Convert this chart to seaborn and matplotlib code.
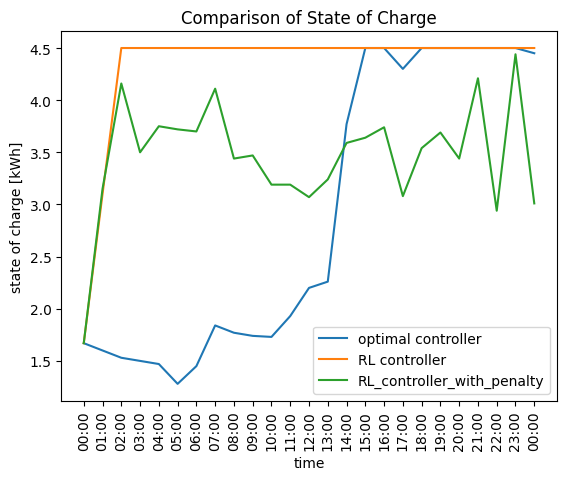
import numpy as np
import pandas as pd
import matplotlib
matplotlib.use("Agg")
import matplotlib.pyplot as plt
import seaborn as sns

# hourly time labels (last one wraps to the next midnight)
time_labels = [f"{h:02d}:00" for h in range(24)] + ["00:00"]

optimal = [1.67, 1.60, 1.53, 1.50, 1.47, 1.28, 1.45, 1.84, 1.77, 1.74, 1.73,
           1.93, 2.20, 2.26, 3.77, 4.50, 4.50, 4.30, 4.50, 4.50, 4.50, 4.50,
           4.50, 4.50, 4.45]
rl = [1.67, 3.10, 4.50, 4.50, 4.50, 4.50, 4.50, 4.50, 4.50, 4.50, 4.50,
      4.50, 4.50, 4.50, 4.50, 4.50, 4.50, 4.50, 4.50, 4.50, 4.50, 4.50,
      4.50, 4.50, 4.50]
rl_penalty = [1.67, 3.15, 4.16, 3.50, 3.75, 3.72, 3.70, 4.11, 3.44, 3.47, 3.19,
              3.19, 3.07, 3.24, 3.59, 3.64, 3.74, 3.08, 3.54, 3.69, 3.44, 4.21,
              2.94, 4.44, 3.01]

series = {
    "optimal controller": optimal,
    "RL controller": rl,
    "RL_controller_with_penalty": rl_penalty,
}

rows = []
for name, vals in series.items():
    for i, v in enumerate(vals):
        rows.append({"step": i, "soc": v, "controller": name})
df = pd.DataFrame(rows)

fig, ax = plt.subplots(figsize=(5.67, 4.81), dpi=100)
fig.subplots_adjust(left=0.108, right=0.982, top=0.933, bottom=0.165)

sns.lineplot(data=df, x="step", y="soc", hue="controller",
             palette=["#1f77b4", "#ff7f0e", "#2ca02c"], ax=ax)

ax.set_xticks(range(len(time_labels)))
ax.set_xticklabels(time_labels, rotation=90)
ax.set_xlabel("time")
ax.set_ylabel("state of charge [kWh]")
ax.set_title("Comparison of State of Charge")
ax.legend(loc="lower right")

fig.savefig("out.png", dpi=100)
